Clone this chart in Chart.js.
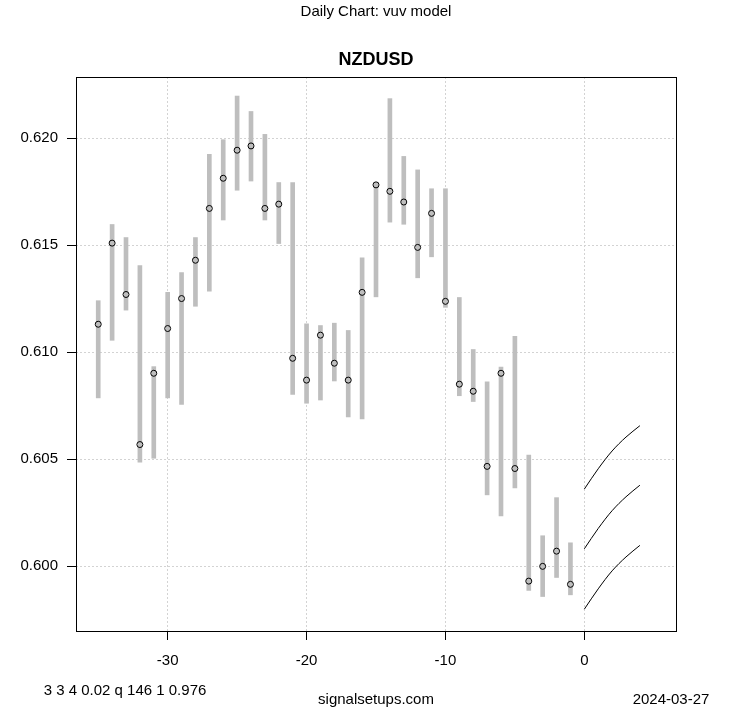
<!DOCTYPE html>
<html>
<head>
<meta charset="utf-8">
<script src="https://cdn.jsdelivr.net/npm/chart.js@4.4.1/dist/chart.umd.min.js"></script>
<style>
    html, body { margin: 0; padding: 0; background: #fff; }
    #wrap { position: relative; width: 753px; height: 708px; font-family: "Liberation Sans", Arial, sans-serif; color: #000; }
    #wrap canvas { position: absolute; left: 0; top: 0; }
    .txt { position: absolute; white-space: nowrap; line-height: 1; }
    .mid { transform: translateX(-50%); }
</style>
</head>
<body>
<div id="wrap">
    <canvas id="chart" width="753" height="708"></canvas>
    <div class="txt mid" style="left:376px; top:3px; font-size:15px;">Daily Chart: vuv model</div>
    <div class="txt mid" style="left:376px; top:50px; font-size:18px; font-weight:bold;">NZDUSD</div>
    <div class="txt mid" style="left:125px; top:682px; font-size:15px;">3 3 4 0.02 q 146 1 0.976</div>
    <div class="txt mid" style="left:376px; top:691px; font-size:15px;">signalsetups.com</div>
    <div class="txt mid" style="left:671px; top:691px; font-size:15px;">2024-03-27</div>
</div>
<script>
// days before the signal date
const days = [-35, -34, -33, -32, -31, -30, -29, -28, -27, -26, -25, -24, -23, -22, -21, -20, -19, -18,
    -17, -16, -15, -14, -13, -12, -11, -10, -9, -8, -7, -6, -5, -4, -3, -2, -1];
const highs = [0.61241, 0.61597, 0.61536, 0.61405, 0.60933, 0.61280, 0.61372, 0.61536, 0.61925, 0.61993,
    0.62197, 0.62125, 0.62018, 0.61793, 0.61793, 0.61133, 0.61125, 0.61136, 0.61102, 0.61441,
    0.61792, 0.62185, 0.61915, 0.61852, 0.61764, 0.61764, 0.61256, 0.61013, 0.60862, 0.60931,
    0.61074, 0.60520, 0.60143, 0.60321, 0.60110];
const lows = [0.60787, 0.61056, 0.61197, 0.60487, 0.60505, 0.60787, 0.60757, 0.61215, 0.61285, 0.61618,
    0.61757, 0.61800, 0.61618, 0.61508, 0.60803, 0.60762, 0.60777, 0.60866, 0.60698, 0.60689,
    0.61259, 0.61608, 0.61598, 0.61348, 0.61446, 0.61210, 0.60797, 0.60770, 0.60334, 0.60236,
    0.60366, 0.59887, 0.59859, 0.59948, 0.59867];
const closes = [0.61131, 0.61510, 0.61270, 0.60569, 0.60902, 0.61111, 0.61251, 0.61430, 0.61672, 0.61813,
    0.61944, 0.61964, 0.61672, 0.61692, 0.60972, 0.60870, 0.61080, 0.60949, 0.60870, 0.61280,
    0.61782, 0.61752, 0.61702, 0.61490, 0.61649, 0.61238, 0.60851, 0.60818, 0.60467, 0.60902,
    0.60457, 0.59931, 0.60000, 0.60071, 0.59916];

// model projection
const fcDays = [0, 1, 2, 3, 4];
const fcUpper = [0.60361, 0.60456, 0.60539, 0.60604, 0.60657];
const fcMid = [0.60082, 0.60177, 0.60260, 0.60325, 0.60379];
const fcLower = [0.59800, 0.59895, 0.59979, 0.60044, 0.60098];

const xTicks = [-30, -20, -10, 0];
const yTicks = [0.600, 0.605, 0.610, 0.615, 0.620];

const FONT = { family: '"Liberation Sans", Arial, sans-serif', size: 15 };

function fcLine(values) {
    return {
        type: 'line',
        data: fcDays.map(function (d, i) { return { x: d, y: values[i] }; }),
        borderColor: '#000',
        borderWidth: 1,
        pointRadius: 0,
        cubicInterpolationMode: 'monotone',
        fill: false,
        order: 0
    };
}

const boxPlugin = {
    id: 'box',
    afterDraw: function (chart) {
        const a = chart.chartArea;
        const ctx = chart.ctx;
        ctx.save();
        ctx.strokeStyle = '#000';
        ctx.lineWidth = 1;
        ctx.strokeRect(Math.round(a.left) + 0.5, Math.round(a.top) + 0.5,
            Math.round(a.right - a.left), Math.round(a.bottom - a.top));
        ctx.restore();
    }
};

function gridOpts() {
    return {
        color: '#d3d3d3',
        lineWidth: 1,
        drawTicks: true,
        tickLength: 9,
        tickColor: '#000',
        tickWidth: 1,
        tickBorderDash: [],
        offset: false
    };
}

new Chart(document.getElementById('chart'), {
    type: 'bar',
    data: {
        datasets: [
            {
                type: 'bar',
                data: days.map(function (d, i) { return { x: d, y: [lows[i], highs[i]] }; }),
                backgroundColor: '#bebebe',
                borderWidth: 0,
                barThickness: 4,
                grouped: false,
                order: 3
            },
            {
                type: 'scatter',
                data: days.map(function (d, i) { return { x: d, y: closes[i] }; }),
                pointStyle: 'circle',
                pointRadius: 3,
                borderColor: '#000',
                borderWidth: 1,
                backgroundColor: 'rgba(0,0,0,0)',
                order: 1
            },
            fcLine(fcUpper),
            fcLine(fcMid),
            fcLine(fcLower)
        ]
    },
    options: {
        responsive: false,
        animation: false,
        devicePixelRatio: 1,
        layout: { padding: { left: 0, top: 77, right: 77, bottom: 37 } },
        plugins: {
            legend: { display: false },
            tooltip: { enabled: false }
        },
        scales: {
            x: {
                type: 'linear',
                min: -36.6,
                max: 6.6,
                offset: false,
                afterBuildTicks: function (s) { s.ticks = xTicks.map(function (v) { return { value: v }; }); },
                afterFit: function (s) { s.height = 40; },
                ticks: {
                    color: '#000',
                    font: FONT,
                    padding: 12,
                    maxRotation: 0,
                    callback: function (v) { return String(v); }
                },
                grid: gridOpts(),
                border: { display: false, dash: [2, 2] }
            },
            y: {
                type: 'linear',
                min: 0.59698,
                max: 0.62286,
                afterBuildTicks: function (s) { s.ticks = yTicks.map(function (v) { return { value: v }; }); },
                afterFit: function (s) { s.width = 76; },
                ticks: {
                    color: '#000',
                    font: FONT,
                    padding: 9,
                    callback: function (v) { return v.toFixed(3); }
                },
                grid: gridOpts(),
                border: { display: false, dash: [2, 2] }
            }
        }
    },
    plugins: [boxPlugin]
});
</script>
</body>
</html>
